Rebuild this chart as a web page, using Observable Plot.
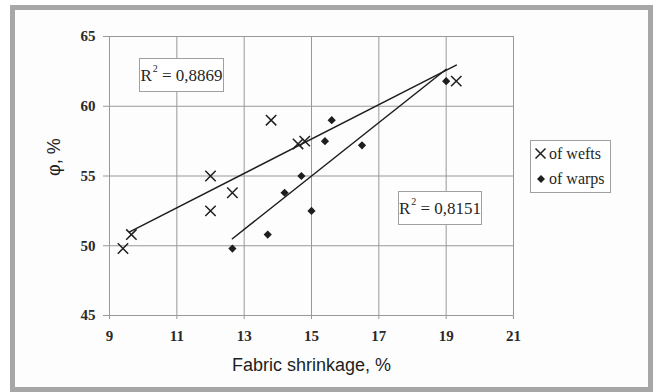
<!DOCTYPE html>
<html>
<head>
<meta charset="utf-8">
<script src="https://cdn.jsdelivr.net/npm/d3@7"></script>
<script src="https://cdn.jsdelivr.net/npm/@observablehq/plot@0.6"></script>
<style>
  html, body { margin: 0; padding: 0; background: #ffffff; }
  #wrap { position: relative; width: 656px; height: 392px; overflow: hidden; background: #ffffff; }
  #frame { position: absolute; left: 10px; top: 5px; width: 643px; height: 387px; box-sizing: border-box;
           border: 5px solid #a7a7a7; background: #fdfdfd; }
  #chart { position: absolute; left: 0; top: 0; }
  .note { position: absolute; box-sizing: border-box; border: 1px solid #a0a0a0; background: #ffffff;
          font-family: "Liberation Serif", serif; font-size: 17px; color: #262626;
          display: flex; align-items: center; justify-content: center; white-space: nowrap; padding-top: 2px; }
  .note sup { font-size: 10px; position: relative; top: -7px; line-height: 0; margin-left: 1px; }
  #legend { position: absolute; left: 530px; top: 140px; width: 81px; height: 53px; box-sizing: border-box;
            border: 1px solid #a0a0a0; background: #ffffff;
            font-family: "Liberation Serif", serif; font-size: 16px; color: #262626; }
  #legend .item { position: absolute; left: 3px; display: flex; align-items: center; white-space: nowrap; }
  #legend svg { display: block; margin-right: 2px; }
</style>
</head>
<body>
<div id="wrap">
  <div id="frame"></div>
  <div id="chart"></div>
  <div class="note" style="left:139px; top:58px; width:85px; height:34px;">R<sup>2</sup>&nbsp;=&nbsp;0,8869</div>
  <div class="note" style="left:398px; top:191px; width:84px; height:34px;">R<sup>2</sup>&nbsp;=&nbsp;0,8151</div>
  <div id="legend">
    <div class="item" style="top:4px;">
      <svg width="13" height="18"><path d="M1.5,3.5L11.5,13.5M11.5,3.5L1.5,13.5" stroke="#1e1e1e" stroke-width="1.5" fill="none"/></svg>
      <span>of wefts</span>
    </div>
    <div class="item" style="top:29px;">
      <svg width="13" height="18"><path d="M7,5L11,9L7,13L3,9Z" fill="#1e1e1e"/></svg>
      <span>of warps</span>
    </div>
  </div>
</div>
<script>
// ---- data ----
const xTicks = [9, 11, 13, 15, 17, 19, 21];
const yTicks = [45, 50, 55, 60, 65];

const weftX = [9.4, 9.65, 12.0, 12.0, 12.65, 13.8, 14.6, 14.8, 19.3];
const weftY = [49.8, 50.8, 55.0, 52.5, 53.8, 59.0, 57.3, 57.5, 61.8];

const warpX = [12.65, 13.7, 14.2, 14.7, 15.0, 15.4, 15.6, 16.5, 19.0];
const warpY = [49.8, 50.8, 53.8, 55.0, 52.5, 57.5, 59.0, 57.2, 61.8];

// trend line end points (as drawn in the reference)
const weftTrendX = [9.6, 19.3];
const weftTrendY = [51.0, 62.95];
const warpTrendX = [12.65, 19.0];
const warpTrendY = [50.5, 62.65];

const xTitle = "Fabric shrinkage, %";
const yTitle = "φ, %";

// ---- build tables ----
const wefts = weftX.map((x, i) => ({x, y: weftY[i]}));
const warps = warpX.map((x, i) => ({x, y: warpY[i]}));
const weftTrend = weftTrendX.map((x, i) => ({x, y: weftTrendY[i]}));
const warpTrend = warpTrendX.map((x, i) => ({x, y: warpTrendY[i]}));

const gridColor = "#999999";

const chart = Plot.plot({
  width: 656,
  height: 392,
  marginLeft: 109,
  marginRight: 143,
  marginTop: 36,
  marginBottom: 77,
  style: {background: "transparent", fontFamily: "Liberation Serif, serif", fontSize: "15px", color: "#2a2a2a", overflow: "visible"},
  x: {domain: [9, 21]},
  y: {domain: [45, 65]},
  marks: [
    Plot.gridX(xTicks, {stroke: gridColor, strokeOpacity: 1, strokeWidth: 1}),
    Plot.gridY(yTicks, {stroke: gridColor, strokeOpacity: 1, strokeWidth: 1}),
    Plot.axisX(xTicks, {tickSize: 4, tickPadding: 11, stroke: gridColor, strokeOpacity: 1, label: null,
      fill: "#2a2a2a", fontFamily: "Liberation Serif, serif", fontSize: 15, fontWeight: "bold", tickFormat: d => String(d)}),
    Plot.axisY(yTicks, {tickSize: 6, tickPadding: 8, stroke: gridColor, strokeOpacity: 1, label: null,
      fill: "#2a2a2a", fontFamily: "Liberation Serif, serif", fontSize: 15, fontWeight: "bold", tickFormat: d => String(d)}),
    Plot.line(weftTrend, {x: "x", y: "y", stroke: "#1e1e1e", strokeWidth: 1.5}),
    Plot.line(warpTrend, {x: "x", y: "y", stroke: "#1e1e1e", strokeWidth: 1.5}),
    Plot.dot(wefts, {x: "x", y: "y", symbol: "times", r: 4.8, stroke: "#1e1e1e", strokeWidth: 1.5}),
    Plot.dot(warps, {x: "x", y: "y", symbol: "diamond2", r: 3.7, fill: "#1e1e1e", stroke: "none"}),
    Plot.text([xTitle], {frameAnchor: "bottom", dy: 50, lineAnchor: "middle", text: d => d,
      fontFamily: "Liberation Sans, Arial, sans-serif", fontSize: 18, fill: "#1e1e1e"}),
    Plot.text([yTitle], {frameAnchor: "left", dx: -55, rotate: -90, lineAnchor: "middle", text: d => d,
      fontFamily: "Liberation Sans, Arial, sans-serif", fontSize: 18, fill: "#1e1e1e"})
  ]
});
document.getElementById("chart").appendChild(chart);
</script>
</body>
</html>
